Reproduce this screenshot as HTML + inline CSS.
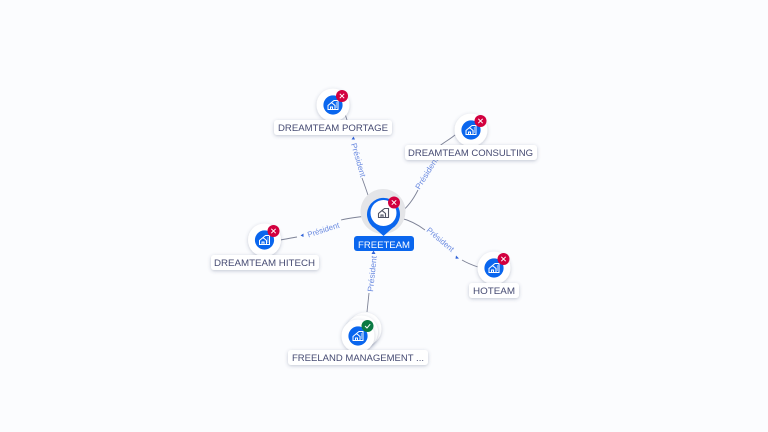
<!DOCTYPE html>
<html><head><meta charset="utf-8"><style>
html,body{margin:0;padding:0;background:#fbfcfe;width:768px;height:432px;overflow:hidden}
svg{display:block}
text{font-family:"Liberation Sans",sans-serif}
.l{font-size:9.5px;fill:#454a72}
.e{font-size:8px;fill:#6a8ae0}
.c{fill:none;stroke:#7d8296;stroke-width:.9}
.b{fill:#fff;filter:url(#s)}
</style></head><body>
<svg width="768" height="432" viewBox="0 0 768 432" xmlns="http://www.w3.org/2000/svg">
<defs>
<filter id="s" x="-30%" y="-60%" width="160%" height="220%"><feDropShadow dx="0" dy="1" stdDeviation="1.8" flood-color="#4a5478" flood-opacity=".32"/></filter>
<g id="i" fill="none" stroke="#fff" stroke-width="1"><path d="M-5 4.5V.5L-1.5-2.5 2 .5V4.5ZM-1.5-2.5 1-4.5H5V4.5H2M-2.5 4.5V2H-.5V4.5"/><path d="M3.4-2.5V3" stroke-dasharray="1 1"/></g>
<g id="x"><circle r="6" fill="#d2003f"/><path d="M-2.2-2.2 2.2 2.2M2.2-2.2-2.2 2.2" stroke="#fff" stroke-width="1"/></g>
<g id="n"><circle r="16.5" fill="#fff" filter="url(#s)"/><circle r="9.6" fill="#0a66ee"/><use href="#i"/></g>
</defs>
<rect width="768" height="432" fill="#fbfcfe"/>

<path class="c" d="M370 201C367 192 365 186 362 178M345 114L347 120"/>
<path class="c" d="M400 213C408 207 414 198 418 190M437 148C444 142 449 140 455 135"/>
<path class="c" d="M367 216C358 217 349 218 341 220M297 237C291 238 286 239 280 240"/>
<path class="c" d="M400 218C409 220 417 224 425 230M462 260C467 263 472 265 478 267"/>
<path class="c" d="M367 312L369 293"/>

<path d="M351.5 139.5L353.5 136.5 355 139.5Z" fill="#2f62d8"/>
<path d="M303.5 233.5L300.5 235.5 303.5 237Z" fill="#2f62d8"/>
<path d="M456 255.5L459 258.5 455.5 258.8Z" fill="#2f62d8"/>
<path d="M371.5 254L373.5 250.5 375.5 254Z" fill="#2f62d8"/>

<text class="e" transform="translate(351 144) rotate(74)" textLength="35" lengthAdjust="spacingAndGlyphs">Président</text>
<text class="e" transform="translate(419.5 190) rotate(-58)" textLength="36" lengthAdjust="spacingAndGlyphs">Président</text>
<text class="e" transform="translate(308.5 237.5) rotate(-18)" textLength="33" lengthAdjust="spacingAndGlyphs">Président</text>
<text class="e" transform="translate(426 231) rotate(40)" textLength="33" lengthAdjust="spacingAndGlyphs">Président</text>
<text class="e" transform="translate(373 292) rotate(-84)" textLength="36" lengthAdjust="spacingAndGlyphs">Président</text>

<circle cx="383" cy="211.5" r="22.5" fill="#e4e5e8"/>
<path d="M383.5 236L375 228.5A16.5 16.5 0 1 1 392 228.5Z" fill="#0a66ee"/>
<circle cx="383.5" cy="213" r="13" fill="#fff"/>
<g transform="translate(383.5 213)" fill="none" stroke="#4f5364" stroke-width="1.1"><path d="M-5 4.5V.5L-1.5-2.5 2 .5V4.5ZM-1.5-2.5 1-4.5H5V4.5H2M-2.5 4.5V2H-.5V4.5"/></g>
<use href="#x" transform="translate(394 202.5)"/>
<rect x="354" y="236" width="60" height="15" rx="3" fill="#0a66ee"/>
<text x="358" y="248" font-size="9.5" fill="#fff" textLength="52" lengthAdjust="spacingAndGlyphs">FREETEAM</text>

<use href="#n" transform="translate(333 105)"/><use href="#x" transform="translate(342 96)"/>
<rect class="b" x="274" y="120" width="118" height="15" rx="3"/>
<text class="l" x="278" y="131" textLength="110" lengthAdjust="spacingAndGlyphs">DREAMTEAM PORTAGE</text>

<use href="#n" transform="translate(471 130)"/><use href="#x" transform="translate(480.5 121)"/>
<rect class="b" x="405" y="145" width="132" height="15" rx="3"/>
<text class="l" x="408" y="156" textLength="125" lengthAdjust="spacingAndGlyphs">DREAMTEAM CONSULTING</text>

<use href="#n" transform="translate(264.5 240)"/><use href="#x" transform="translate(273.5 231)"/>
<rect class="b" x="211" y="255" width="108" height="15" rx="3"/>
<text class="l" x="214" y="266" textLength="101" lengthAdjust="spacingAndGlyphs">DREAMTEAM HITECH</text>

<use href="#n" transform="translate(494 268)"/><use href="#x" transform="translate(503.5 259)"/>
<rect class="b" x="469" y="283" width="50" height="15" rx="3"/>
<text class="l" x="473" y="294" textLength="42" lengthAdjust="spacingAndGlyphs">HOTEAM</text>

<circle cx="365" cy="329" r="16.5" fill="#fff" filter="url(#s)"/>
<circle cx="361.5" cy="332" r="16.5" fill="#fff" filter="url(#s)"/>
<use href="#n" transform="translate(358 336)"/>
<circle cx="367.5" cy="326" r="6" fill="#0b7a43"/>
<path d="M365 326L367 328 370.2 324.2" fill="none" stroke="#fff" stroke-width="1"/>
<rect class="b" x="288" y="350" width="140" height="15" rx="3"/>
<text class="l" x="292" y="361" textLength="132" lengthAdjust="spacingAndGlyphs">FREELAND MANAGEMENT ...</text>
</svg>
</body></html>
